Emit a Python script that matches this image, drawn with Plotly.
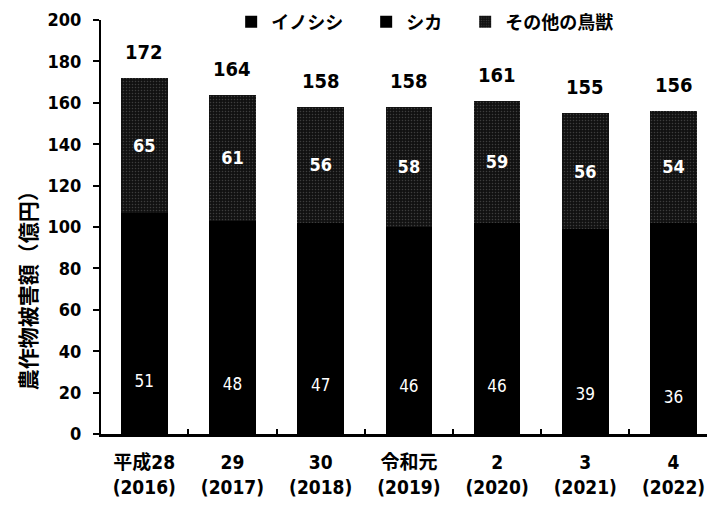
import plotly.graph_objects as go

categories = ["平成28<br>(2016)", "29<br>(2017)", "30<br>(2018)", "令和元<br>(2019)",
              "2<br>(2020)", "3<br>(2021)", "4<br>(2022)"]
inoshishi = [51, 48, 47, 46, 46, 39, 36]
totals = [172, 164, 158, 158, 161, 155, 156]
others = [65, 61, 56, 58, 59, 56, 54]
shika = [t - i - o for t, i, o in zip(totals, inoshishi, others)]

NUM = "DejaVu Sans Condensed, Noto Sans CJK JP"
JP = "Noto Sans CJK JP"

fig = go.Figure()
fig.add_trace(go.Bar(
    x=categories, y=inoshishi, name="イノシシ\u3000",
    marker=dict(color="#000000", line=dict(width=0)),
    text=[str(v) for v in inoshishi], textposition="inside",
    insidetextanchor="middle",
    textfont=dict(color="white", size=17, family=NUM),
))
fig.add_trace(go.Bar(
    x=categories, y=shika, name="シカ\u3000",
    marker=dict(color="#000000", line=dict(width=0)),
))
fig.add_trace(go.Bar(
    x=categories, y=others, name="その他の鳥獣",
    marker=dict(color="#111111", line=dict(width=0),
                pattern=dict(shape=".", fgcolor="#6a6a6a", bgcolor="#111111",
                             size=3, solidity=0.2)),
    text=[str(v) for v in others], textposition="inside",
    insidetextanchor="middle",
    textfont=dict(color="white", size=18, family=NUM, weight="bold"),
))

for c, t in zip(categories, totals):
    fig.add_annotation(x=c, y=t, text=f"<b>{t}</b>", showarrow=False,
                       yanchor="bottom", yshift=12,
                       font=dict(size=20, color="black", family=NUM))

fig.add_annotation(xref="paper", yref="y", x=-0.12, y=72, xanchor="center", yanchor="middle",
                   text="<b>農作物被害額（億円）</b>", textangle=-90, showarrow=False,
                   font=dict(size=21, color="#000000", family=JP))

fig.update_layout(
    width=707, height=499,
    margin=dict(l=93, r=0, t=12, b=73, autoexpand=False),
    barmode="stack", bargap=0.47,
    paper_bgcolor="white", plot_bgcolor="white",
    font=dict(family=NUM, color="black"),
    legend=dict(orientation="h", x=0.212, y=1.04, xanchor="left", yanchor="top",
                bgcolor="rgba(0,0,0,0)", traceorder="normal",
                font=dict(size=18, family=JP, color="black", weight="bold"),
                itemwidth=30, itemsizing="constant"),
    showlegend=True,
)
fig.update_xaxes(range=[-0.49, 6.47], showline=True, linecolor="black", linewidth=3,
                 ticks="inside", tickson="boundaries", ticklen=5, tickwidth=2,
                 tickcolor="black", automargin=False, ticklabelstandoff=9,
                 tickfont=dict(size=19, family=NUM, color="black", weight="bold"))
fig.update_yaxes(range=[0, 200], dtick=20, showline=True, linecolor="black", linewidth=2,
                 ticks="outside", ticklen=6, tickwidth=2, tickcolor="black",
                 showgrid=False, zeroline=False, automargin=False, ticklabelstandoff=8,
                 tickfont=dict(size=18, family=NUM, color="black", weight="bold"))

fig.write_html("out.html")
